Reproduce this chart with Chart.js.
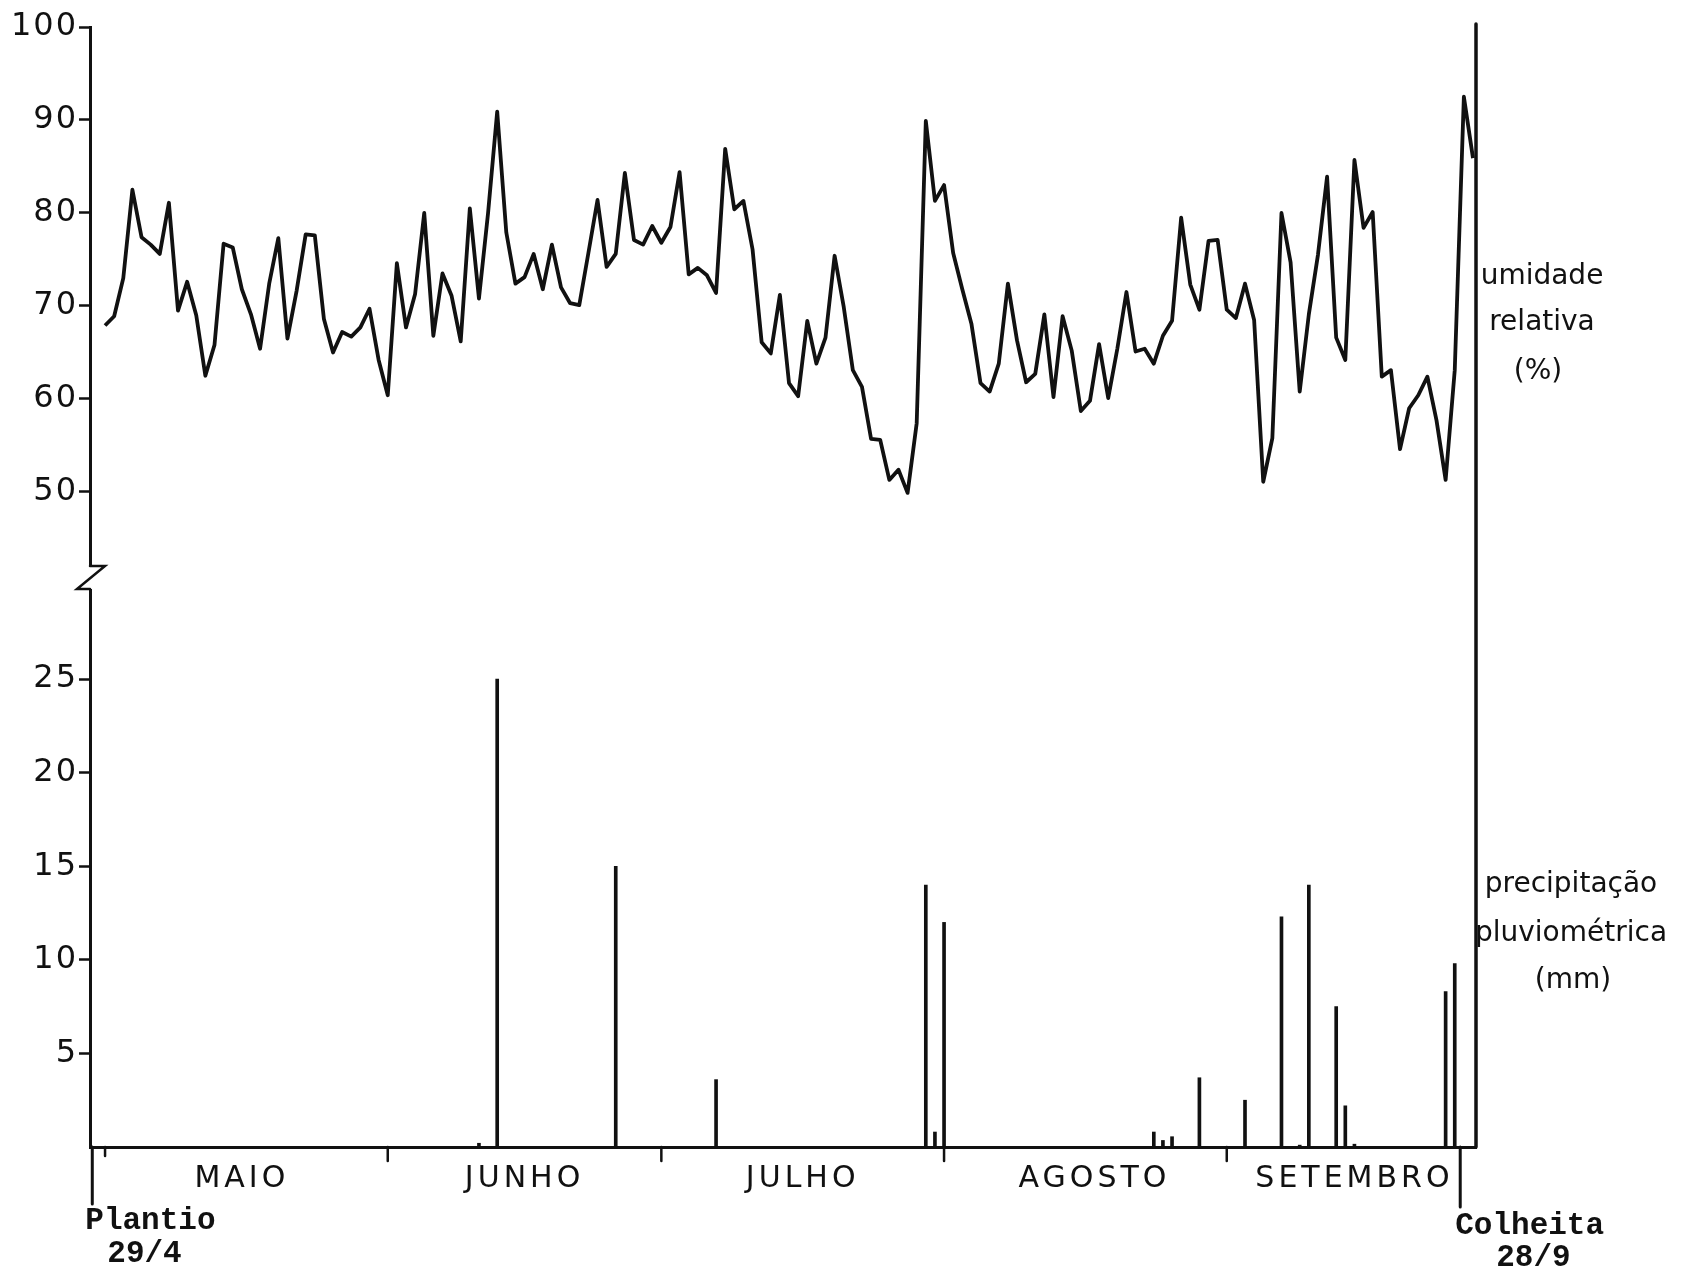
<!DOCTYPE html>
<html>
<head>
<meta charset="UTF-8">
<title>Umidade relativa e precipitação pluviométrica</title>
<script src="https://cdn.jsdelivr.net/npm/chart.js"></script>
<style>
  html, body { margin: 0; padding: 0; background: #fff; }
</style>
</head>
<body>
<canvas id="chart" width="1689" height="1271"></canvas>
<script>
// dia 0 = 1/5 ... dia 150 = 28/9
const humidity = [
  67.9, 68.9, 73.0, 82.5, 77.4, 76.6, 75.6, 81.1, 69.5, 72.6,
  69.0, 62.5, 65.8, 76.7, 76.3, 71.8, 69.1, 65.4, 72.4, 77.3,
  66.5, 71.6, 77.7, 77.6, 68.6, 65.0, 67.2, 66.7, 67.7, 69.7,
  64.2, 60.4, 74.6, 67.7, 71.3, 80.0, 66.8, 73.5, 71.1, 66.2,
  80.5, 70.8, 80.0, 90.9, 77.9, 72.4, 73.1, 75.6, 71.8, 76.6,
  72.0, 70.3, 70.1, 75.7, 81.4, 74.2, 75.6, 84.3, 77.1, 76.6,
  78.6, 76.8, 78.5, 84.4, 73.4, 74.1, 73.3, 71.4, 86.9, 80.4,
  81.3, 76.1, 66.1, 64.9, 71.2, 61.7, 60.3, 68.4, 63.8, 66.6,
  75.4, 69.9, 63.1, 61.3, 55.7, 55.6, 51.3, 52.4, 49.9, 57.4,
  89.9, 81.3, 83.0, 75.7, 71.8, 68.1, 61.7, 60.8, 63.8, 72.4,
  66.3, 61.8, 62.7, 69.1, 60.2, 68.9, 65.2, 58.7, 59.8, 65.9,
  60.1, 65.4, 71.5, 65.1, 65.4, 63.8, 66.8, 68.4, 79.5, 72.3,
  69.6, 77.0, 77.1, 69.6, 68.7, 72.4, 68.5, 51.1, 55.8, 80.0,
  74.7, 60.8, 69.1, 75.5, 83.9, 66.6, 64.2, 85.7, 78.4, 80.1,
  62.4, 63.1, 54.6, 59.0, 60.4, 62.4, 57.7, 51.3, 63.1, 92.5,
  85.9
];

const rainDays = [41, 43, 56, 67, 90, 91, 92, 115, 116, 117, 120, 125, 129, 131, 132, 135, 136, 137, 147, 148];
const rainMm   = [0.2, 25, 15, 3.6, 14, 0.8, 12, 0.8, 0.35, 0.55, 3.7, 2.5, 12.3, 0.1, 14, 7.5, 2.2, 0.15, 8.3, 9.8];

const months = ['MAIO', 'JUNHO', 'JULHO', 'AGOSTO', 'SETEMBRO'];
const monthCenters = [15, 46, 76.5, 108.5, 137];
const monthStarts = [0, 31, 61, 92, 123];

const humidityTicks = [50, 60, 70, 80, 90, 100];
const rainTicks = [5, 10, 15, 20, 25];

const plantioDay = -1.4;
const colheitaDay = 148.6;

const INK = '#111';

const decor = {
  id: 'decor',
  beforeDraw(chart) {
    chart.ctx.letterSpacing = '2px';
  },
  afterDatasetsDraw(chart) {
    // os rótulos dos meses (z = 1) saem depois disto
    chart.ctx.letterSpacing = '4px';
  },
  afterDraw(chart) {
    const ctx = chart.ctx;
    const area = chart.chartArea;
    const x = chart.scales.x;
    const yb = chart.scales.yHum.bottom;
    ctx.save();
    ctx.letterSpacing = '0px';
    ctx.strokeStyle = INK;
    ctx.fillStyle = INK;
    ctx.lineCap = 'round';

    // linha da direita
    ctx.lineWidth = 3.5;
    ctx.beginPath();
    ctx.moveTo(area.right, area.top - 3);
    ctx.lineTo(area.right, area.bottom);
    ctx.stroke();

    // quebra do eixo
    ctx.fillStyle = '#fff';
    ctx.fillRect(area.left - 4, yb - 11, 8, 22);
    ctx.fillStyle = INK;
    ctx.lineWidth = 2.5;
    ctx.beginPath();
    ctx.moveTo(area.left, yb - 12);
    ctx.lineTo(area.left + 15, yb - 12);
    ctx.lineTo(area.left - 13, yb + 11);
    ctx.lineTo(area.left, yb + 11);
    ctx.stroke();

    // marcas dos meses
    ctx.lineWidth = 2.5;
    monthStarts.forEach((d, i) => {
      const px = x.getPixelForValue(d);
      ctx.beginPath();
      ctx.moveTo(px, area.bottom);
      ctx.lineTo(px, area.bottom + (i === 0 ? 9 : 14));
      ctx.stroke();
    });

    // plantio e colheita
    const xp = x.getPixelForValue(plantioDay);
    const xc = x.getPixelForValue(colheitaDay);
    ctx.lineWidth = 3;
    ctx.beginPath();
    ctx.moveTo(xp, area.bottom);
    ctx.lineTo(xp, area.bottom + 57);
    ctx.moveTo(xc, area.bottom);
    ctx.lineTo(xc, area.bottom + 60);
    ctx.stroke();

    ctx.font = 'bold 31px "Liberation Mono", "DejaVu Sans Mono", monospace';
    ctx.textAlign = 'left';
    ctx.textBaseline = 'alphabetic';
    ctx.fillText('Plantio', xp - 7, 1229);
    ctx.fillText('29/4', xp + 15, 1262);
    ctx.fillText('Colheita', xc - 5, 1234);
    ctx.fillText('28/9', xc + 36, 1266);

    // títulos à direita
    ctx.font = '28px "DejaVu Sans", sans-serif';
    ctx.textAlign = 'center';
    ctx.textBaseline = 'middle';
    const cx1 = area.right + 66;
    ctx.fillText('umidade', cx1, 277);
    ctx.fillText('relativa', cx1, 323);
    ctx.fillText('(%)', cx1 - 4, 372);
    const cx2 = area.right + 95;
    ctx.fillText('precipitação', cx2, 885);
    ctx.fillText('pluviométrica', cx2, 934);
    ctx.fillText('(mm)', cx2 + 2, 981);
    ctx.restore();
  }
};

const yCommon = {
  type: 'linear',
  position: 'left',
  stack: 'left',
  afterFit: s => { s.width = 90; },
  grid: { display: true, drawOnChartArea: false, drawTicks: true, tickLength: 11, tickWidth: 2.5, tickColor: INK },
  border: { display: true, width: 3, color: INK },
  ticks: { color: INK, padding: 1, font: { family: 'DejaVu Sans', size: 32 } }
};

new Chart(document.getElementById('chart'), {
  type: 'line',
  data: {
    datasets: [
      {
        type: 'line',
        label: 'umidade relativa (%)',
        data: humidity.map((v, i) => ({ x: i, y: v })),
        yAxisID: 'yHum',
        borderColor: INK,
        borderWidth: 3.8,
        borderJoinStyle: 'round',
        pointRadius: 0,
        tension: 0
      },
      {
        type: 'bar',
        label: 'precipitação pluviométrica (mm)',
        data: rainDays.map((d, i) => ({ x: d, y: rainMm[i] })),
        yAxisID: 'yRain',
        backgroundColor: INK,
        borderWidth: 0,
        barThickness: 3
      }
    ]
  },
  options: {
    responsive: false,
    animation: false,
    layout: { padding: { left: 0, right: 213, top: 27, bottom: 0 } },
    plugins: { legend: { display: false }, tooltip: { enabled: false } },
    scales: {
      x: {
        type: 'linear',
        position: 'bottom',
        min: -1.65,
        max: 150.33,
        offset: false,
        afterBuildTicks: s => { s.ticks = monthCenters.map(v => ({ value: v })); },
        afterFit: s => { s.height = 124; },
        grid: { display: false, drawTicks: false },
        border: { display: true, width: 3, color: INK },
        ticks: {
          z: 1,
          autoSkip: false,
          maxRotation: 0,
          padding: 14,
          color: INK,
          font: { family: 'DejaVu Sans', size: 30 },
          callback: (v, i) => months[i]
        }
      },
      yRain: Object.assign({}, yCommon, {
        stackWeight: 569,
        min: 0,
        max: 30.4,
        afterBuildTicks: s => { s.ticks = rainTicks.map(v => ({ value: v })); }
      }),
      yHum: Object.assign({}, yCommon, {
        stackWeight: 551,
        min: 40.75,
        max: 100,
        afterBuildTicks: s => { s.ticks = humidityTicks.map(v => ({ value: v })); }
      })
    }
  },
  plugins: [decor]
});
</script>
</body>
</html>
